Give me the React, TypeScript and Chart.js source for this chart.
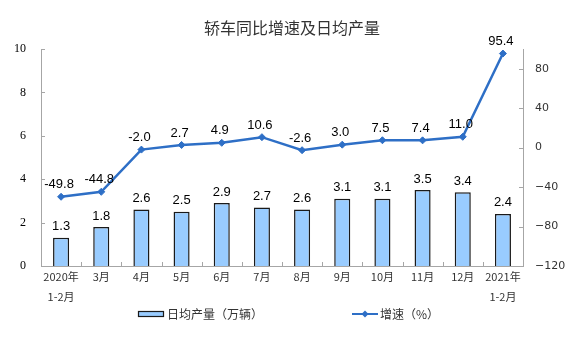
import React, { useEffect, useRef } from 'react';
import { Chart, registerables } from 'chart.js';

Chart.register(...registerables);

const categories: (string | string[])[] = [
  ['2020年', '1-2月'], '3月', '4月', '5月', '6月', '7月', '8月', '9月', '10月', '11月', '12月', ['2021年', '1-2月'],
];
const dailyOutput = [1.3, 1.8, 2.6, 2.5, 2.9, 2.7, 2.6, 3.1, 3.1, 3.5, 3.4, 2.4];
const growthRate = [-49.8, -44.8, -2.0, 2.7, 4.9, 10.6, -2.6, 3.0, 7.5, 7.4, 11.0, 95.4];
const titleText = '轿车同比增速及日均产量';
const barLabel = '日均产量（万辆）';
const lineLabel = '增速（%）';

const BAR_FILL = '#99CCFF';
const BAR_BORDER = '#1a1a1a';
const LINE_COLOR = '#2E6FC6';
const AXIS_COLOR = '#A6A6A6';

const decorPlugin = {
  id: 'decor',
  afterDraw(chart: any) {
    const ctx = chart.ctx;
    const area = chart.chartArea;
    ctx.save();
    // inner tick marks
    ctx.strokeStyle = AXIS_COLOR;
    ctx.lineWidth = 1;
    const y = chart.scales.y;
    y.ticks.forEach((t: any) => {
      const py = Math.round(y.getPixelForValue(t.value)) + 0.5;
      ctx.beginPath();
      ctx.moveTo(area.left, py);
      ctx.lineTo(area.left + 4, py);
      ctx.stroke();
    });
    const y1 = chart.scales.y1;
    y1.ticks.forEach((t: any) => {
      const py = Math.round(y1.getPixelForValue(t.value)) + 0.5;
      ctx.beginPath();
      ctx.moveTo(area.right - 4, py);
      ctx.lineTo(area.right, py);
      ctx.stroke();
    });
    const x = chart.scales.x;
    const n = categories.length;
    const step = (area.right - area.left) / n;
    for (let i = 1; i < n; i++) {
      const px = Math.round(area.left + i * step) + 0.5;
      ctx.beginPath();
      ctx.moveTo(px, area.bottom);
      ctx.lineTo(px, area.bottom - 4);
      ctx.stroke();
    }
    void x;

    // title
    ctx.fillStyle = '#333333';
    ctx.font = '16px "Noto Sans CJK SC"';
    ctx.textAlign = 'center';
    ctx.textBaseline = 'middle';
    ctx.fillText(titleText, 292, 28);

    // legend
    const ly = 314;
    ctx.fillStyle = BAR_FILL;
    ctx.fillRect(138.5, ly - 2.5, 25, 5);
    ctx.strokeStyle = BAR_BORDER;
    ctx.lineWidth = 1.2;
    ctx.strokeRect(138.5, ly - 2.5, 25, 5);
    ctx.fillStyle = '#333333';
    ctx.font = '12px "Noto Sans CJK SC"';
    ctx.textAlign = 'left';
    ctx.fillText(barLabel, 167, ly);

    ctx.strokeStyle = LINE_COLOR;
    ctx.lineWidth = 2;
    ctx.beginPath();
    ctx.moveTo(352, ly);
    ctx.lineTo(378, ly);
    ctx.stroke();
    ctx.fillStyle = LINE_COLOR;
    ctx.beginPath();
    ctx.moveTo(365, ly - 3.5);
    ctx.lineTo(368.5, ly);
    ctx.lineTo(365, ly + 3.5);
    ctx.lineTo(361.5, ly);
    ctx.closePath();
    ctx.fill();
    ctx.fillStyle = '#333333';
    ctx.fillText(lineLabel, 380, ly);
    ctx.restore();
  },
  afterDatasetsDraw(chart: any) {
    const ctx = chart.ctx;
    ctx.save();
    ctx.fillStyle = '#000000';
    ctx.font = '13px "Liberation Sans", Arial, sans-serif';
    ctx.textAlign = 'center';
    ctx.textBaseline = 'middle';
    const barMeta = chart.getDatasetMeta(0);
    barMeta.data.forEach((el: any, i: number) => {
      ctx.fillText(dailyOutput[i].toFixed(1), el.x, el.y - 11);
    });
    const lineMeta = chart.getDatasetMeta(1);
    lineMeta.data.forEach((el: any, i: number) => {
      ctx.fillText(growthRate[i].toFixed(1), el.x - 2, el.y - 12);
    });
    ctx.restore();
  },
};

export default function App() {
  const ref = useRef<HTMLCanvasElement | null>(null);
  useEffect(() => {
    document.body.style.margin = '0';
    const canvas = ref.current;
    if (!canvas) return;
    const chart = new Chart(canvas, {
      type: 'bar',
      data: {
        labels: categories as any,
        datasets: [
          {
            type: 'bar',
            label: barLabel,
            data: dailyOutput,
            yAxisID: 'y',
            backgroundColor: BAR_FILL,
            borderColor: BAR_BORDER,
            borderWidth: 1.5,
            categoryPercentage: 1,
            barPercentage: 0.4,
            order: 2,
          } as any,
          {
            type: 'line',
            label: lineLabel,
            data: growthRate,
            yAxisID: 'y1',
            borderColor: LINE_COLOR,
            backgroundColor: LINE_COLOR,
            borderWidth: 2.5,
            pointStyle: 'rectRot',
            pointRadius: 3.5,
            pointBorderWidth: 1,
            tension: 0,
            order: 1,
          } as any,
        ],
      },
      options: {
        responsive: false,
        animation: false,
        devicePixelRatio: 1,
        layout: { padding: { top: 49, left: 0, right: 0, bottom: 0 } },
        plugins: {
          legend: { display: false },
          title: { display: false },
          tooltip: { enabled: false },
        },
        scales: {
          x: {
            grid: { display: false, drawTicks: false },
            border: { display: true, color: AXIS_COLOR, width: 1 },
            ticks: {
              color: '#333333',
              font: { family: '"Noto Sans CJK SC"', size: 11, lineHeight: 1.8 },
              padding: 1,
              maxRotation: 0,
              autoSkip: false,
            },
            afterFit: (s: any) => { s.height = 92; },
          },
          y: {
            position: 'left',
            min: 0,
            max: 10,
            grid: { display: false, drawTicks: false },
            border: { display: true, color: AXIS_COLOR, width: 1 },
            ticks: {
              stepSize: 2,
              includeBounds: false,
              color: '#000000',
              font: { family: '"Liberation Serif", serif', size: 12 },
              padding: 15,
            },
            afterFit: (s: any) => { s.width = 41; },
          },
          y1: {
            position: 'right',
            min: -120,
            max: 100,
            grid: { display: false, drawTicks: false },
            border: { display: true, color: AXIS_COLOR, width: 1 },
            ticks: {
              stepSize: 40,
              includeBounds: false,
              color: '#333333',
              font: { family: '"DejaVu Sans", sans-serif', size: 11 },
              padding: 12,
              callback: (v: any) => (v > 80 ? '' : String(v).replace('-', '\u2212')),
            },
            afterFit: (s: any) => { s.width = 53; },
          },
        },
      } as any,
      plugins: [decorPlugin],
    });
    return () => chart.destroy();
  }, []);
  return (
    <div style={{ width: 576, height: 358, background: '#ffffff' }}>
      <canvas ref={ref} width={576} height={358} />
    </div>
  );
}
